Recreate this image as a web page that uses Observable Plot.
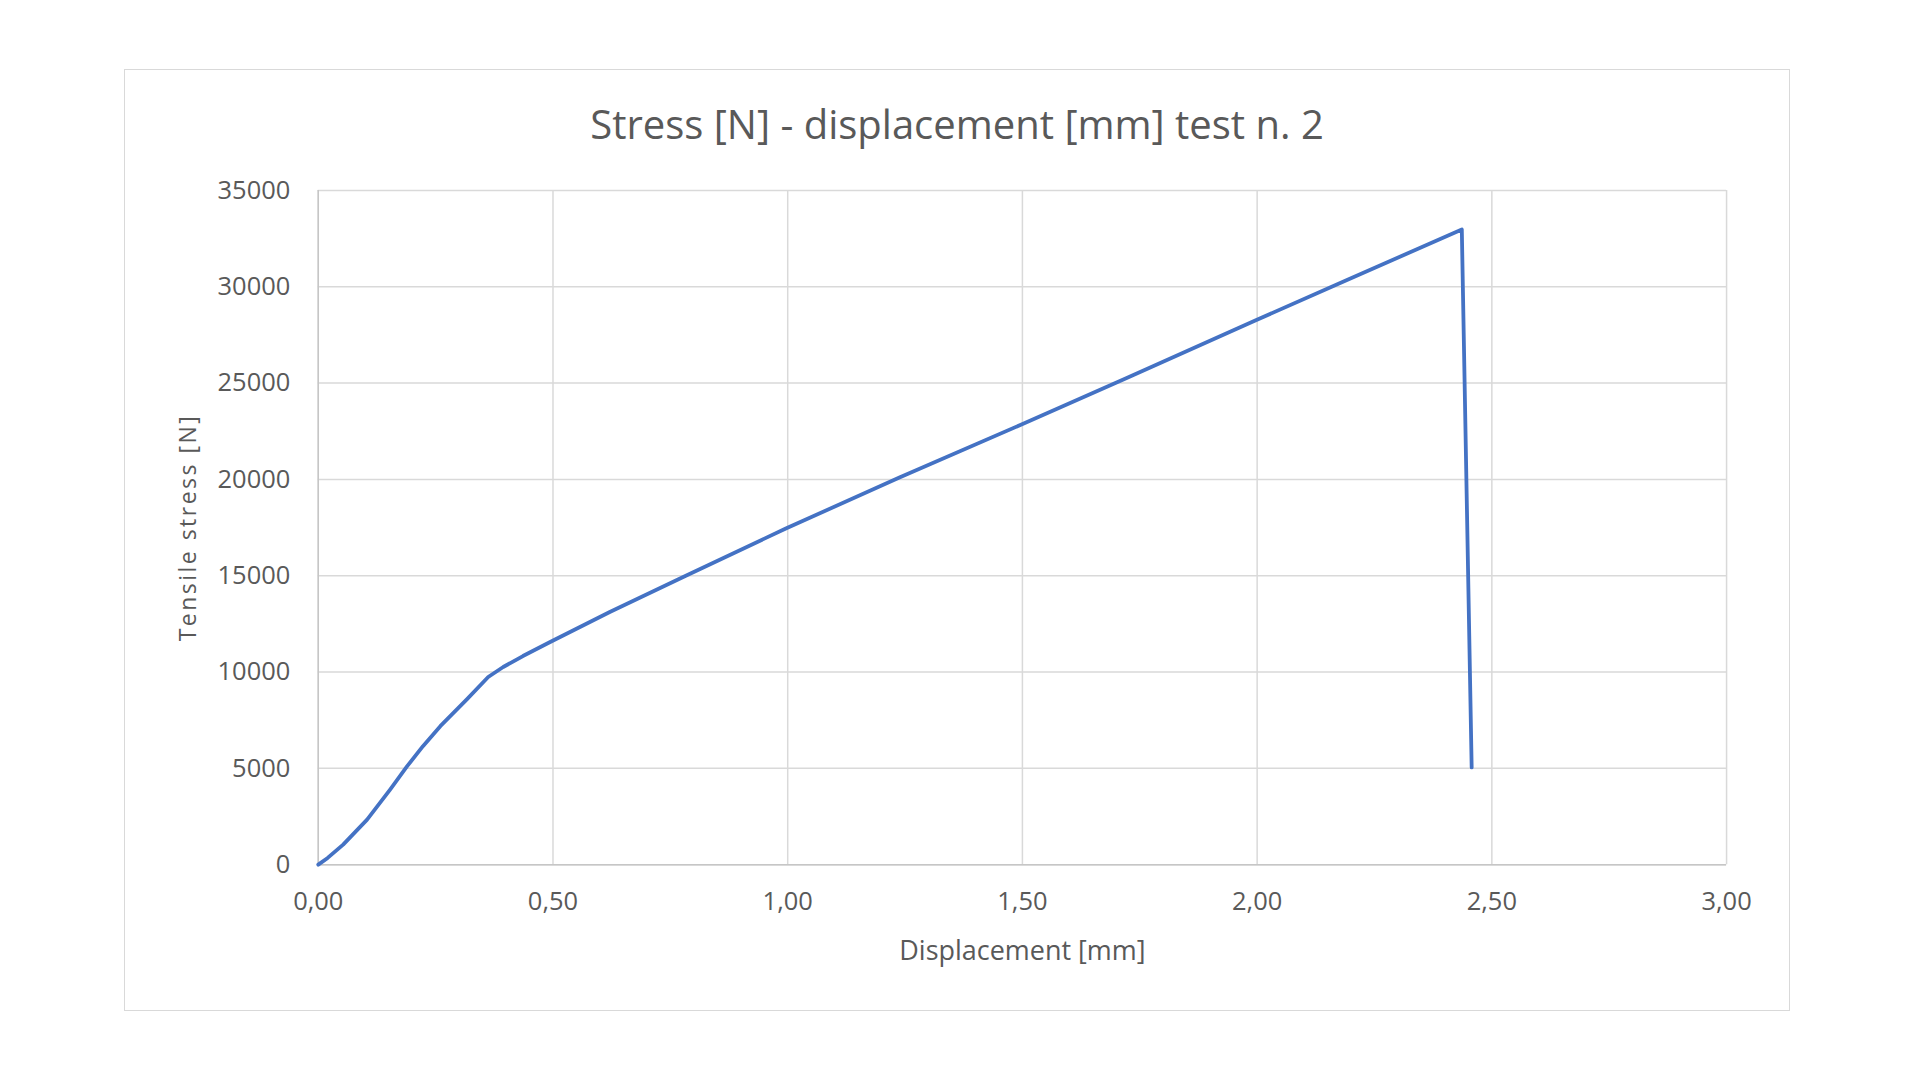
<!DOCTYPE html>
<html><head><meta charset="utf-8">
<script src="https://cdn.jsdelivr.net/npm/d3@7"></script>
<script src="https://cdn.jsdelivr.net/npm/@observablehq/plot@0.6"></script>
<style>
html,body{margin:0;padding:0;background:#fff;width:1920px;height:1080px;overflow:hidden;}
#frame{position:absolute;left:124px;top:69px;width:1664px;height:940px;border:1.5px solid #d9d9d9;background:#fff;}
#title{position:absolute;left:0;top:28px;width:100%;text-align:center;font-family:"Open Sans";font-size:40px;color:#595959;line-height:52px;white-space:nowrap;}
#chart{position:absolute;left:0;top:100px;}
</style></head><body>
<div id="frame"><div id="title">Stress [N] - displacement [mm] test n. 2</div><div id="chart"></div></div>
<script>
const displacement = [0, 0.02, 0.053, 0.104, 0.153, 0.189, 0.223, 0.26, 0.317, 0.362, 0.394, 0.436, 0.494, 0.621, 0.783, 0.996, 1.238, 1.498, 1.721, 1.996, 2.189, 2.436, 2.457];
const stress = [0, 350, 1040, 2340, 3900, 5100, 6150, 7190, 8590, 9740, 10260, 10830, 11560, 13120, 15000, 17450, 20100, 22850, 25250, 28250, 30330, 32970, 5050];
const xTicks = [0, 0.5, 1, 1.5, 2, 2.5, 3];
const yTicks = [0, 5000, 10000, 15000, 20000, 25000, 30000, 35000];
const xLabel = "Displacement [mm]";
const yLabel = "Tensile stress [N]";

const data = displacement.map((x, i) => ({x, y: stress[i]}));
const grey = "#595959";
const chart = Plot.plot({
  width: 1666, height: 841,
  marginLeft: 193, marginRight: 63, marginTop: 20, marginBottom: 146,
  style: {fontFamily: '"Open Sans"', fontSize: "25.5px", color: grey, background: "transparent", overflow: "visible"},
  x: {domain: [0, 3]},
  y: {domain: [0, 35000]},
  marks: [
    Plot.gridX(xTicks, {stroke: "#d9d9d9", strokeOpacity: 1, strokeWidth: 1.5}),
    Plot.gridY(yTicks, {stroke: "#d9d9d9", strokeOpacity: 1, strokeWidth: 1.5}),
    Plot.ruleX([0], {stroke: "#c6c6c6", strokeWidth: 1.5}),
    Plot.ruleY([0], {stroke: "#c6c6c6", strokeWidth: 1.5}),
    Plot.axisX(xTicks, {tickSize: 0, tickPadding: 27, tickFormat: d => d.toFixed(2).replace(".", ","), fill: grey, label: null}),
    Plot.axisY(yTicks, {tickSize: 0, tickPadding: 28, tickFormat: d => String(d), fill: grey, label: null}),
    Plot.line(data, {x: "x", y: "y", stroke: "#4472C4", strokeWidth: 3.8, strokeLinejoin: "round", strokeLinecap: "round"}),
    Plot.text([xLabel], {text: d => d, frameAnchor: "bottom", dy: 95, fill: grey, fontSize: 27}),
    Plot.text([yLabel], {text: d => d, frameAnchor: "left", textAnchor: "middle", rotate: -90, dx: -130, fill: grey, fontSize: 23})
  ]
});
d3.select(chart).selectAll("text").filter(function() { return this.textContent === yLabel; }).style("letter-spacing", "2.5px");
document.getElementById("chart").appendChild(chart);
</script>
</body></html>
